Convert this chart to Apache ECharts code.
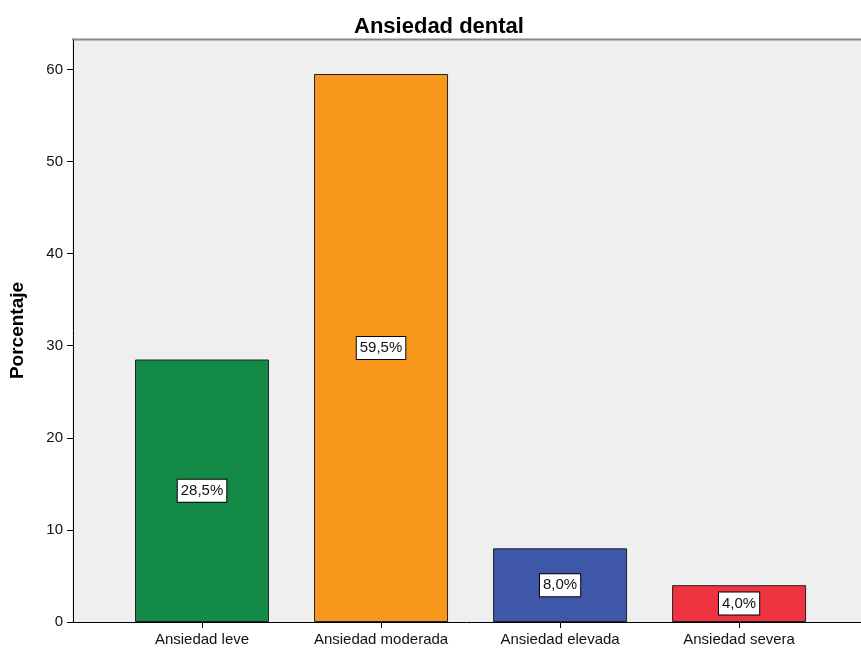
<!DOCTYPE html>
<html><head><meta charset="utf-8">
<script src="https://cdn.jsdelivr.net/npm/echarts@6/dist/echarts.min.js"></script>
<style>html,body{margin:0;padding:0;background:#fff}#c{width:861px;height:651px}</style>
</head><body><div id="c"></div>
<script>
const categories = ['Ansiedad leve', 'Ansiedad moderada', 'Ansiedad elevada', 'Ansiedad severa'];
const values = [28.5, 59.5, 8.0, 4.0];
const barColors = ['#138a47', '#f7981d', '#3e57a8', '#ef3340'];
const yTicks = [0, 10, 20, 30, 40, 50, 60];

const chart = echarts.init(document.getElementById('c'), null, {renderer: 'canvas'});
const font = '"Liberation Sans", Arial, sans-serif';
const L = 72, T = 39, B = 622, R = 861;
const gL = 111.5, gR = 861 - 828.6;
chart.setOption({
  animation: false,
  textStyle: {fontFamily: font},
  title: {text: 'Ansiedad dental', left: 434, top: 11, textAlign: 'center',
    textStyle: {fontFamily: font, fontSize: 22, fontWeight: 'bold', color: '#000'}},
  graphic: [
    {type: 'rect', z: -10, shape: {x: L, y: T, width: R - L, height: B - T}, style: {fill: '#efefef'}},
    {type: 'line', z: 10, shape: {x1: L, y1: T + 0.5, x2: R, y2: T + 0.5}, style: {stroke: '#888', lineWidth: 2}},
    {type: 'line', z: 10, shape: {x1: L, y1: B + 0.5, x2: R, y2: B + 0.5}, style: {stroke: '#000', lineWidth: 1}}
  ],
  grid: {left: gL, right: gR, top: T, bottom: 651 - B},
  xAxis: {
    type: 'category', data: categories,
    axisLine: {show: false},
    axisTick: {show: true, alignWithLabel: true, length: 6, lineStyle: {color: '#000'}},
    axisLabel: {color: '#111', fontSize: 15, fontFamily: font, margin: 10}
  },
  yAxis: {
    type: 'value', min: 0, max: 63.3, interval: 10,
    offset: gL - L,
    name: 'Porcentaje', nameLocation: 'middle', nameGap: 46,
    nameTextStyle: {fontFamily: font, fontSize: 19, fontWeight: 'bold', color: '#000'},
    axisLine: {show: true, lineStyle: {color: '#000'}},
    axisTick: {show: true, length: 6, customValues: yTicks, lineStyle: {color: '#000'}},
    splitLine: {show: false},
    axisLabel: {color: '#111', fontSize: 15, fontFamily: font, margin: 10, customValues: yTicks}
  },
  series: [{
    type: 'bar', barWidth: 134,
    data: values.map((v, i) => ({value: v, itemStyle: {color: barColors[i]}})),
    itemStyle: {borderColor: '#222', borderWidth: 1},
    label: {
      show: true, position: 'inside',
      formatter: p => p.value.toFixed(1).replace('.', ',') + '%',
      color: '#111', fontSize: 15, fontFamily: font,
      backgroundColor: '#fff', borderColor: '#000', borderWidth: 1,
      padding: [4, 3, 3, 3]
    }
  }]
});
</script></body></html>
